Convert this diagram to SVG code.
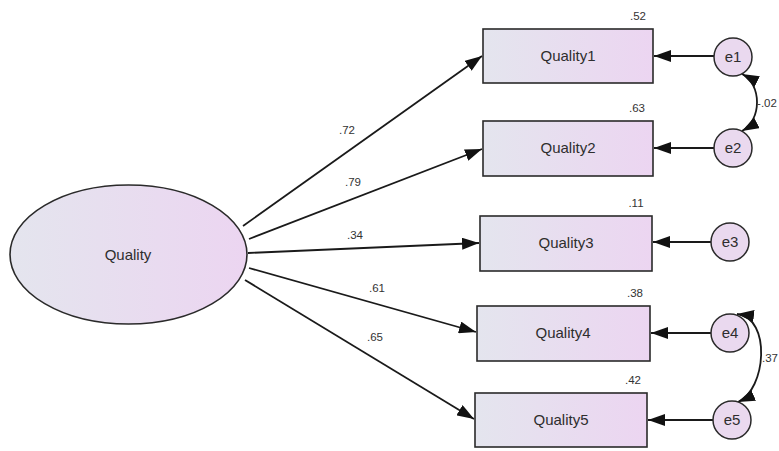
<svg xmlns="http://www.w3.org/2000/svg" width="779" height="451" viewBox="0 0 779 451">
<style>
.box{stroke:#2a2a2a;stroke-width:1.6;fill:url(#g)}
.err{stroke:#2a2a2a;stroke-width:1.5;fill:#ead9ef}
.lbl{font-family:"Liberation Sans",Arial,sans-serif;font-size:15px;fill:#2e2e2e;text-anchor:middle}
.num{font-family:"Liberation Sans",Arial,sans-serif;font-size:11.5px;fill:#333;text-anchor:middle}
.edge{stroke:#1a1a1a;stroke-width:1.8;fill:none}
</style>
<defs>
<linearGradient id="g" x1="0" y1="0" x2="1" y2="0">
<stop offset="0" stop-color="#e4e5ee"/>
<stop offset="1" stop-color="#ecd5f1"/>
</linearGradient>
<marker id="ah" viewBox="0 0 17 12" refX="17" refY="6" markerWidth="17" markerHeight="12" markerUnits="userSpaceOnUse" orient="auto-start-reverse">
<path d="M0,0 L17,6 L0,12 Z" fill="#111"/>
</marker>
</defs>
<rect width="779" height="451" fill="#fff"/>
<g id="connectors">
<line class="edge" x1="243" y1="226" x2="482" y2="56" marker-end="url(#ah)"/>
<line class="edge" x1="249" y1="239" x2="482" y2="149" marker-end="url(#ah)"/>
<line class="edge" x1="248" y1="253" x2="479" y2="243" marker-end="url(#ah)"/>
<line class="edge" x1="249" y1="268" x2="476" y2="332" marker-end="url(#ah)"/>
<line class="edge" x1="245" y1="280" x2="474" y2="419" marker-end="url(#ah)"/>
<line class="edge" x1="714" y1="56" x2="654" y2="56" marker-end="url(#ah)"/>
<line class="edge" x1="714" y1="148" x2="654" y2="148" marker-end="url(#ah)"/>
<line class="edge" x1="711" y1="242" x2="653" y2="242" marker-end="url(#ah)"/>
<line class="edge" x1="711" y1="333" x2="651" y2="333" marker-end="url(#ah)"/>
<line class="edge" x1="713" y1="420" x2="648" y2="420" marker-end="url(#ah)"/>
<path class="edge" d="M742,74 C762,84 762,120 742,131" marker-start="url(#ah)" marker-end="url(#ah)"/>
<path class="edge" d="M737,314 C772,318 766,390 738,402" marker-start="url(#ah)" marker-end="url(#ah)"/>
<text class="num" x="347" y="134">.72</text>
<text class="num" x="353" y="186">.79</text>
<text class="num" x="355" y="239">.34</text>
<text class="num" x="377" y="292">.61</text>
<text class="num" x="375" y="341">.65</text>
<text class="num" x="767" y="107">-.02</text>
<text class="num" x="770" y="362">.37</text>
</g>
<g id="Quality">
<ellipse cx="128.5" cy="254.5" rx="118.5" ry="69.5" class="box"/>
<text class="lbl" x="128" y="260">Quality</text>
</g>
<g id="Quality1">
<rect x="483" y="29" width="170" height="54" class="box"/>
<text class="lbl" x="568" y="61">Quality1</text>
<text class="num" x="638" y="20">.52</text>
</g>
<g id="Quality2">
<rect x="483" y="121" width="170" height="55" class="box"/>
<text class="lbl" x="568" y="153">Quality2</text>
<text class="num" x="637" y="112">.63</text>
</g>
<g id="Quality3">
<rect x="480" y="216" width="172" height="55" class="box"/>
<text class="lbl" x="566" y="248">Quality3</text>
<text class="num" x="636" y="207">.11</text>
</g>
<g id="Quality4">
<rect x="477" y="306" width="173" height="55" class="box"/>
<text class="lbl" x="563" y="338">Quality4</text>
<text class="num" x="635" y="297">.38</text>
</g>
<g id="Quality5">
<rect x="475" y="393" width="172" height="54" class="box"/>
<text class="lbl" x="561" y="425">Quality5</text>
<text class="num" x="633" y="384">.42</text>
</g>
<g id="e1"><circle cx="733" cy="57" r="19" class="err"/><text class="lbl" x="733" y="62">e1</text></g>
<g id="e2"><circle cx="733" cy="148" r="19" class="err"/><text class="lbl" x="733" y="153">e2</text></g>
<g id="e3"><circle cx="730" cy="242" r="19" class="err"/><text class="lbl" x="730" y="247">e3</text></g>
<g id="e4"><circle cx="730" cy="333" r="19" class="err"/><text class="lbl" x="730" y="338">e4</text></g>
<g id="e5"><circle cx="732" cy="420" r="19" class="err"/><text class="lbl" x="732" y="425">e5</text></g>
</svg>
